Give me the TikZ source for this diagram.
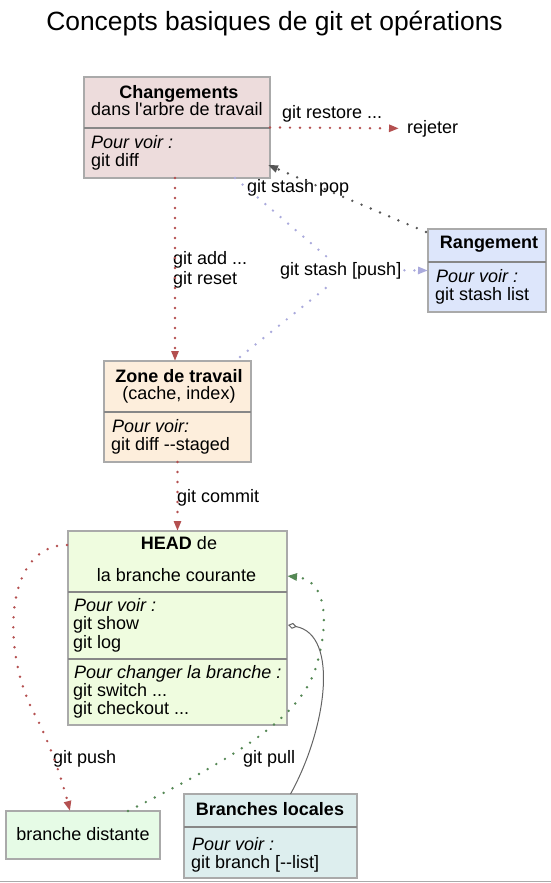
\documentclass[tikz,border=0pt]{standalone}
\usepackage{fontspec}
\setmainfont{Liberation Sans}
\usetikzlibrary{arrows.meta,calc}
\definecolor{boxborder}{RGB}{170,170,170}
\definecolor{sepline}{RGB}{135,135,135}
\definecolor{fchg}{RGB}{237,220,220}
\definecolor{frang}{RGB}{221,230,251}
\definecolor{fzone}{RGB}{253,238,220}
\definecolor{fhead}{RGB}{239,252,223}
\definecolor{fdist}{RGB}{230,251,230}
\definecolor{floc}{RGB}{221,238,238}
\definecolor{redge}{RGB}{180,80,80}
\definecolor{gedge}{RGB}{85,136,85}
\definecolor{ledge}{RGB}{170,170,220}
\definecolor{dedge}{RGB}{85,85,85}
\definecolor{aedge}{RGB}{100,100,100}
\begin{document}
\begin{tikzpicture}[x=1pt,y=-1pt,
  every node/.style={font=\fontsize{18}{18}\selectfont},
  box/.style={draw=boxborder, line width=1.2pt, inner sep=0pt, outer sep=0pt},
  sepl/.style={draw=sepline, line width=1.5pt},
  lbl/.style={inner sep=0pt, anchor=base west},
  ctr/.style={inner sep=0pt, anchor=base},
  dots/.style={line width=2.7pt, line cap=round, dash pattern=on 0pt off 10pt},
  tip/.style={-{Triangle[length=10pt,width=7pt]}}
]
\useasboundingbox (0,0) rectangle (551,883);
% title
\node[ctr, font=\fontsize{26.4}{26.4}\selectfont] (title) at (274.5,31) {Concepts basiques de git et opérations};

% boxes
\node[box, fill=fchg, minimum width=186pt, minimum height=101pt] (chg) at (177,127.5) {};
\node[box, fill=frang, minimum width=118pt, minimum height=83pt] (rang) at (487,270.5) {};
\node[box, fill=fzone, minimum width=147pt, minimum height=101pt] (zone) at (177.5,411.5) {};
\node[box, fill=fhead, minimum width=219pt, minimum height=194pt] (head) at (177.5,628) {};
\node[box, fill=fdist, minimum width=154pt, minimum height=48pt] (dist) at (83,835) {};
\node[box, fill=floc, minimum width=173pt, minimum height=84pt] (loc) at (270.5,836) {};

% dividers
\draw[sepl] (chg.west |- 0,128) -- (chg.east |- 0,128);
\draw[sepl] (rang.west |- 0,262) -- (rang.east |- 0,262);
\draw[sepl] (zone.west |- 0,412) -- (zone.east |- 0,412);
\draw[sepl] (head.west |- 0,592) -- (head.east |- 0,592);
\draw[sepl] (head.west |- 0,659) -- (head.east |- 0,659);
\draw[sepl] (loc.west |- 0,827) -- (loc.east |- 0,827);

% box texts
\node[ctr, font=\fontsize{18}{18}\selectfont\bfseries] (chg1) at (179,98) {Changements};
\node[ctr] (chg2) at (177,115) {dans l\textquotesingle arbre de travail};
\node[lbl] (chg3) at (91,148) {\itshape Pour voir :};
\node[lbl] (chg4) at (91,166) {git diff};

\node[ctr, font=\fontsize{18}{18}\selectfont\bfseries] (rang1) at (489,248) {Rangement};
\node[lbl] (rang2) at (436,282) {\itshape Pour voir :};
\node[lbl] (rang3) at (435,300) {git stash list};

\node[ctr, font=\fontsize{18}{18}\selectfont\bfseries] (zone1) at (179,382) {Zone de travail};
\node[ctr] (zone2) at (179,399) {(cache, index)};
\node[lbl] (zone3) at (112,432) {\itshape Pour voir:};
\node[lbl] (zone4) at (111,450) {git diff -{}-staged};

\node[ctr] (head1) at (179,549) {\textbf{HEAD} de};
\node[ctr] (head2) at (176.5,581) {la branche courante};
\node[lbl] (head3) at (74,611) {\itshape Pour voir :};
\node[lbl] (head4) at (73,629) {git show};
\node[lbl] (head5) at (73,648) {git log};
\node[lbl] (head6) at (74,678) {\itshape Pour changer la branche :};
\node[lbl] (head7) at (73,696) {git switch ...};
\node[lbl] (head8) at (73,714) {git checkout ...};

\node[ctr] (dist1) at (83,840) {branche distante};

\node[ctr, font=\fontsize{18}{18}\selectfont\bfseries] (loc1) at (270,815) {Branches locales};
\node[lbl] (loc2) at (192,850) {\itshape Pour voir :};
\node[lbl] (loc3) at (191,868) {git branch [-{}-list]};

% edge labels
\node[lbl] (restore) at (282,118) {git restore ...};
\node[lbl] (rej) at (407,133) {rejeter};
\node[lbl] (pop) at (247,192) {git stash pop};
\node[lbl] (add) at (173,264) {git add ...};
\node[lbl] (reset) at (173,284) {git reset};
\node[lbl] (push) at (280,275) {git stash [push]};
\node[lbl] (commit) at (177,502) {git commit};
\node[lbl] (gpush) at (53,763) {git push};
\node[lbl] (gpull) at (243,763) {git pull};

% connectors
\draw[dots, redge, tip] (chg.east) -- ($(rej.west)+(-8,0)$);
\draw[dots, redge, tip] ($(chg.south)+(-2,0)$) -- ($(zone.north)+(-2.5,0)$);
\draw[dots, redge, tip] (zone.south) -- (zone.south |- head.north);
\draw[dots, dedge, tip] ($(rang.north west)+(-2,3)$) -- ($(chg.south east)+(-2,-13)$);
\coordinate (sp1) at (327,257);
\coordinate (sp2) at (327,287);
\draw[dots, ledge] ($(chg.south west)+(151,0)$) -- (sp1);
\draw[dots, ledge] ($(zone.north east)+(-11,-4)$) -- (sp2);
\draw[dots, ledge, tip] ($(push.east)+(3,0)$) -- (rang.west);
\draw[dots, redge, tip] ($(head.north west)+(-1,14)$) .. controls (5,545) and (0,650) .. (35,715) .. controls (50,743) and (62,780) .. ($(dist.north)+(-13,0)$);
\draw[dots, gedge, tip] ($(dist.north)+(45,0)$) .. controls (230,760) and (300,720) .. (316,667) .. controls (329,625) and (328,580) .. ($(head.north east)+(0,45)$);
\draw[aedge, line width=1pt, -{Diamond[open,length=9pt,width=6pt]}] ($(loc.north)+(20,0)$) .. controls (326,730) and (340,635) .. ($(head.north east)+(1,94)$);

% bottom rule
\draw[line width=1.5pt, color=boxborder] (0,881.5) -- (551,881.5);
\end{tikzpicture}
\end{document}
